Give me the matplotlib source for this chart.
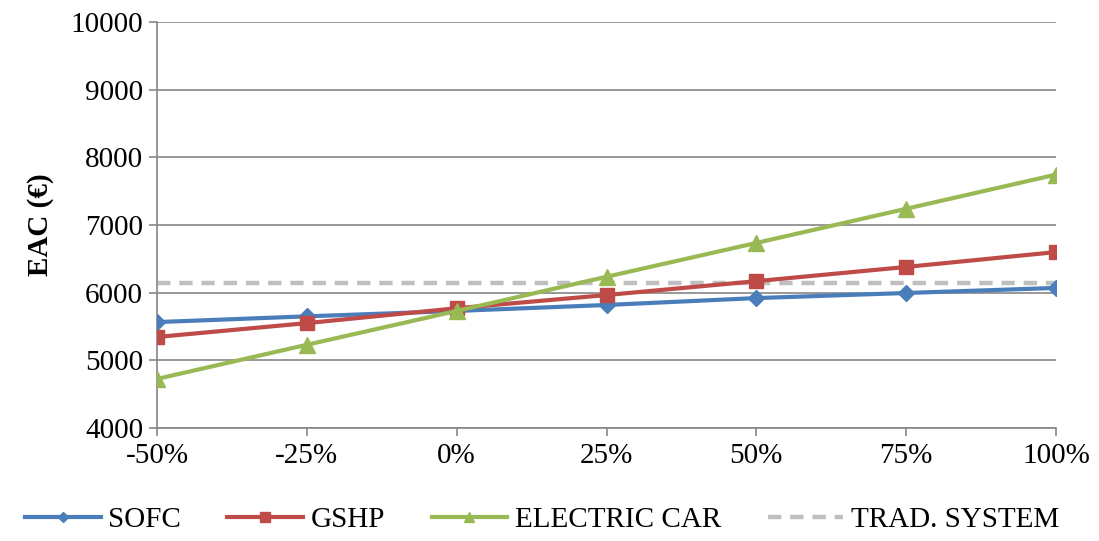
import matplotlib.pyplot as plt

plt.rcParams['font.family'] = ['Liberation Serif', 'DejaVu Serif']

# Sensitivity of EAC to price variation
variation = ["-50%", "-25%", "0%", "25%", "50%", "75%", "100%"]
sofc = [5565, 5650, 5730, 5818, 5920, 5995, 6070]
gshp = [5345, 5550, 5770, 5965, 6170, 6380, 6600]
electric_car = [4725, 5230, 5730, 6235, 6735, 7240, 7745]
trad_system = 6150

x = list(range(len(variation)))

fig = plt.figure(figsize=(10.99, 5.41), dpi=100)
ax = fig.add_axes([0.1429, 0.2089, 0.8180, 0.7504])

ax.plot(x, [trad_system] * len(x), color='#BFBFBF', lw=3.2, ls=(0, (3, 2)),
        label='TRAD. SYSTEM', zorder=2)
ax.plot(x, sofc, color='#4A7EBB', lw=3, marker='D', ms=8, label='SOFC', zorder=3)
ax.plot(x, gshp, color='#BE4B48', lw=3, marker='s', ms=10, label='GSHP', zorder=4)
ax.plot(x, electric_car, color='#98B954', lw=3, marker='^', ms=11,
        label='ELECTRIC CAR', zorder=5)

ax.set_xlim(0, len(x) - 1)
ax.set_ylim(4000, 10000)
ax.set_yticks(range(4000, 10001, 1000))
ax.set_xticks(x)
ax.set_xticklabels(variation)
ax.yaxis.grid(True, color='#868686', lw=1.2)
ax.set_axisbelow(True)

for s in ['top', 'right']:
    ax.spines[s].set_visible(False)
for s in ['left', 'bottom']:
    ax.spines[s].set_color('#868686')
    ax.spines[s].set_linewidth(1.2)
ax.tick_params(axis='both', labelsize=21, color='#868686', length=6, width=1.2)
ax.tick_params(axis='x', pad=5)
ax.tick_params(axis='y', pad=4)

ax.set_ylabel('EAC (€)', fontsize=21, fontweight='bold', labelpad=12)

handles, labels = ax.get_legend_handles_labels()
order = [1, 2, 3, 0]
ax.legend([handles[i] for i in order], [labels[i] for i in order],
          loc='upper center', bbox_to_anchor=(0.428, -0.13), ncol=4, frameon=False,
          fontsize=21, handlelength=2.6, handletextpad=0.25, columnspacing=1.6,
          markerscale=0.7)

fig.savefig('out.png', dpi=100)
